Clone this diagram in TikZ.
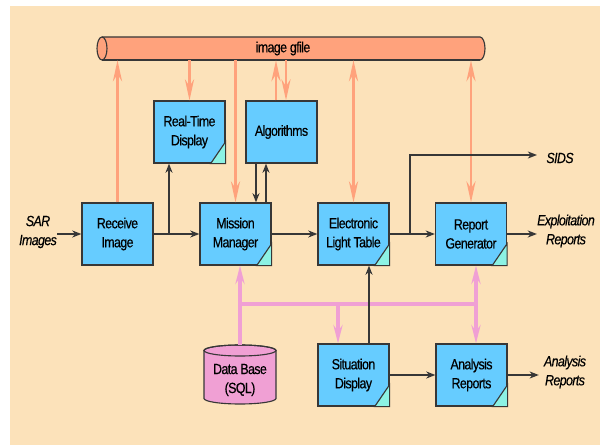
\documentclass[tikz,border=0pt]{standalone}
\usepackage{fontspec}
\setmainfont{Liberation Sans}[FakeStretch=0.84,LetterSpace=-4,FakeBold=0.4]
\usetikzlibrary{arrows.meta,calc}

\definecolor{paper}{RGB}{252,226,186}
\definecolor{boxblue}{RGB}{102,204,255}
\definecolor{tabcyan}{RGB}{140,242,228}
\definecolor{filecolor}{RGB}{255,162,124}
\definecolor{dbpink}{RGB}{240,160,212}
\definecolor{edge}{RGB}{55,55,55}

\begin{document}
\begin{tikzpicture}[x=0.025cm,y=-0.025cm,
    font=\fontsize{10.5}{13.5}\selectfont,
    proc/.style={draw=edge,line width=0.9pt,fill=boxblue,minimum width=1.775cm,minimum height=1.55cm,align=center,inner sep=0pt},
    tab/.style={draw=edge,line width=0.8pt,fill=tabcyan},
    outlabel/.style={font=\fontsize{10.5}{13.5}\selectfont\itshape,align=center,inner sep=0pt},
    flow/.style={draw=edge,line width=0.9pt,>={Stealth[length=6.5pt,width=5pt,inset=2pt]}},
    fileline/.style={draw=filecolor,line width=1.8pt,>={Stealth[length=15pt,width=6.5pt,inset=5pt]}},
    dbline/.style={draw=dbpink,line width=2.4pt,>={Stealth[length=13pt,width=6.5pt,inset=4.5pt]}}]

    \useasboundingbox (0,0) rectangle (600,445);
    \fill[paper] (10,6) rectangle (600,445);

    % image file cylinder
    \fill[filecolor] (102,37) -- (480,37) arc[start angle=-90,end angle=90,x radius=5,y radius=11.5]
        -- (102,60) arc[start angle=90,end angle=270,x radius=5,y radius=11.5] -- cycle;
    \draw[edge,line width=0.8pt] (102,37) -- (480,37) arc[start angle=-90,end angle=90,x radius=5,y radius=11.5];
    \draw[edge,line width=1.1pt] (102,60) -- (480,60);
    \draw[edge,line width=0.8pt] (102,48.5) ellipse[x radius=5,y radius=11.5];
    \node[minimum width=2cm,minimum height=0.575cm,inner sep=0pt] (gfile) at (283,48.5) {image gfile};

    % data base cylinder
    \filldraw[fill=dbpink,draw=edge,line width=0.8pt] (204,350.5) -- (204,398.5)
        arc[start angle=180,end angle=0,x radius=36,y radius=5.5]
        -- (276,350.5) arc[start angle=0,end angle=-180,x radius=36,y radius=5.5] -- cycle;
    \draw[edge,line width=0.8pt] (240,350.5) ellipse[x radius=36,y radius=5.5];
    \node[minimum width=1.8cm,minimum height=1.475cm,inner sep=0pt] (db) at (240,374.5) {};
    \node[align=center,inner sep=0pt] (dbtext) at (240,380) {Data Base\\(SQL)};

    % processes
    \node[proc] (recv) at (117.5,234) {Receive\\Image};
    \node[proc] (rtd) at (189.5,132) {Real-Time\\Display};
    \node[proc] (algo) at (281.5,132) {Algorithms};
    \node[proc] (mm) at (235.5,234) {Mission\\Manager};
    \node[proc] (elt) at (353.5,234) {Electronic\\Light Table};
    \node[proc] (rg) at (471,234) {Report\\Generator};
    \node[proc] (sit) at (353.5,375) {Situation\\Display};
    \node[proc] (ar) at (471.5,375) {Analysis\\Reports};

    \foreach \n in {rtd,mm,elt,rg,sit,ar}
        \filldraw[tab] (\n.south east) -- ++(0,0.55cm) -- ++(-0.375cm,-0.55cm) -- cycle;

    % inputs and outputs
    \node[outlabel] (sar) at (38,232) {SAR\\Images};
    \node[outlabel] (sids) at (560,158) {SIDS};
    \node[outlabel] (expl) at (566,231) {Exploitation\\Reports};
    \node[outlabel] (arout) at (565,372) {Analysis\\Reports};

    % image file traffic
    \draw[fileline,->] (recv.north) -- (recv.north |- gfile.south);
    \draw[fileline,->] (rtd.north |- gfile.south) -- (rtd.north);
    \draw[fileline,->] (mm.north |- gfile.south) -- (mm.north);
    \draw[fileline,->] ([xshift=-0.1375cm]algo.north) -- ([xshift=-0.1375cm]algo.north |- gfile.south);
    \draw[fileline,->] ([xshift=0.1125cm]algo.north |- gfile.south) -- ([xshift=0.1125cm]algo.north);
    \draw[fileline,<->] (elt.north) -- (elt.north |- gfile.south);
    \draw[fileline,<->] (rg.north) -- (rg.north |- gfile.south);

    % data base bus
    \coordinate (busL) at (db.north |- 0,304);
    \coordinate (busS) at (338,304);
    \coordinate (busR) at (476,304);
    \draw[dbline] (busL) -- (busR);
    \draw[dbline,->] (db.north) -- (db.north |- mm.south);
    \draw[dbline,->] (busS) -- (busS |- sit.north);
    \draw[dbline,->] (busR) -- (busR |- rg.south);
    \draw[dbline,->] (busR) -- (busR |- ar.north);

    % data flow
    \coordinate (fork1) at (169,234);
    \coordinate (fork2) at (410,234);
    \coordinate (a1) at ($(algo.south)+(-25.5,0)$);
    \coordinate (a2) at ($(algo.south)+(-15.5,0)$);

    \draw[flow,->] (sar.east |- recv) -- (recv);
    \draw[flow,->] (recv) -- (mm);
    \draw[flow,->] (fork1) -- (fork1 |- rtd.south);
    \draw[flow,->] (a1) -- (a1 |- mm.north);
    \draw[flow,->] (a2 |- mm.north) -- (a2);
    \draw[flow,->] (mm) -- (elt);
    \draw[flow,->] (elt) -- (rg);
    \draw[flow,->,shorten >=6.5pt] (fork2) |- (sids.west |- 0,155);
    \draw[flow,->] (rg) -- (expl.west |- rg);
    \draw[flow,->] ([xshift=0.3875cm]sit.north) -- ([xshift=0.3875cm]elt.south);
    \draw[flow,->] (sit) -- (ar);
    \draw[flow,->,shorten >=3.5pt] (ar) -- (arout.west |- ar);

\end{tikzpicture}
\end{document}
